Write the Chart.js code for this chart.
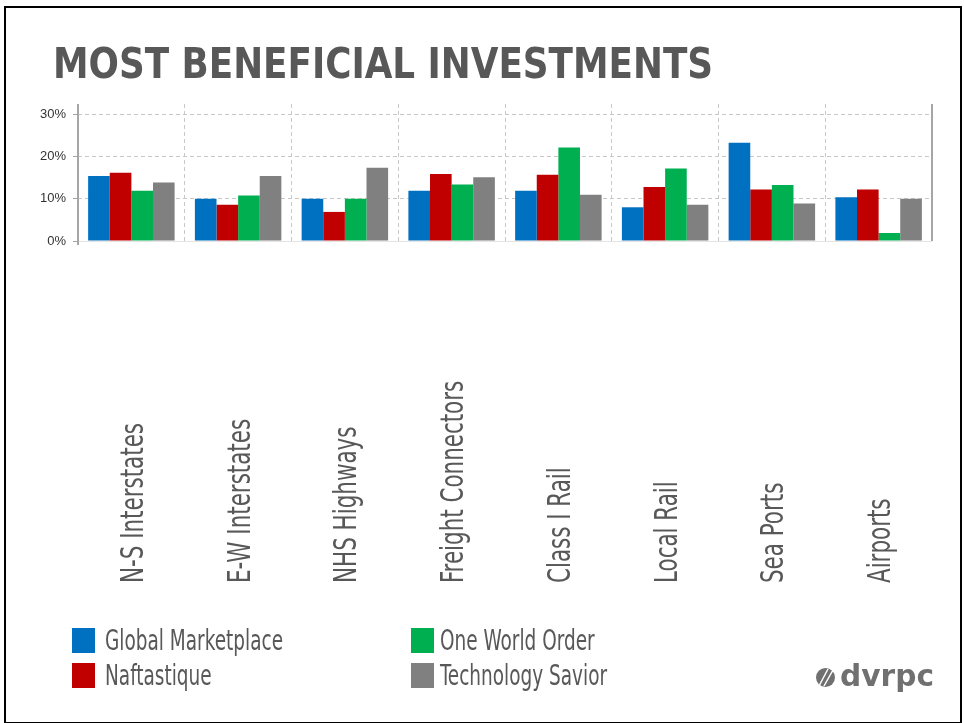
<!DOCTYPE html>
<html>
<head>
<meta charset="utf-8">
<script src="https://cdn.jsdelivr.net/npm/chart.js@4/dist/chart.umd.min.js"></script>
<style>
  html, body { margin: 0; padding: 0; background: #fff; }
  #wrap { width: 964px; height: 723px; position: relative; }
</style>
</head>
<body>
<div id="wrap"><canvas id="chart"></canvas></div>
<script>
const categories = ['N-S Interstates', 'E-W Interstates', 'NHS Highways', 'Freight Connectors', 'Class I Rail', 'Local Rail', 'Sea Ports', 'Airports'];
const seriesNames = ['Global Marketplace', 'Naftastique', 'One World Order', 'Technology Savior'];
const globalMarketplace = [15.4, 10.0, 10.0, 11.9, 11.9, 8.0, 23.3, 10.4];
const naftastique = [16.2, 8.6, 6.9, 15.9, 15.7, 12.8, 12.2, 12.2];
const oneWorldOrder = [11.9, 10.8, 10.0, 13.4, 22.2, 17.2, 13.3, 1.9];
const technologySavior = [13.9, 15.4, 17.4, 15.1, 11.0, 8.6, 8.9, 10.0];
const yTicks = [0, 10, 20, 30];
const titleText = 'MOST BENEFICIAL INVESTMENTS';

const colors = ['#0070C0', '#C00000', '#00B050', '#808080'];
const textGray = '#585858';
const narrow = "'Liberation Sans Narrow', 'DejaVu Sans Condensed', 'Liberation Sans', sans-serif";

// horizontal squeeze factor so text fits a given width
function fitText(ctx, text, width) {
  const w = ctx.measureText(text).width;
  return width / w;
}

const decor = {
  id: 'decor',
  beforeDraw(chart) {
    const ctx = chart.ctx;
    ctx.save();
    ctx.fillStyle = '#fff';
    ctx.fillRect(0, 0, chart.width, chart.height);
    ctx.restore();
  },
  afterDraw(chart) {
    const ctx = chart.ctx;
    const a = chart.chartArea;
    const xs = chart.scales.x;
    ctx.save();

    // zero line
    ctx.strokeStyle = '#e4e4e4';
    ctx.lineWidth = 1;
    ctx.beginPath();
    ctx.moveTo(a.left, Math.round(a.bottom) + 0.5);
    ctx.lineTo(a.right, Math.round(a.bottom) + 0.5);
    ctx.stroke();

    // left / right axis lines
    ctx.strokeStyle = '#a6a6a6';
    ctx.lineWidth = 2;
    ctx.beginPath();
    ctx.moveTo(a.left, a.top);
    ctx.lineTo(a.left, a.bottom + 4);
    ctx.moveTo(a.right, a.top);
    ctx.lineTo(a.right, a.bottom);
    ctx.stroke();

    // title
    ctx.fillStyle = textGray;
    ctx.font = 'bold 42px ' + narrow;
    ctx.textBaseline = 'alphabetic';
    ctx.textAlign = 'left';
    let k = fitText(ctx, titleText, 660);
    ctx.save();
    ctx.translate(53, 78);
    ctx.scale(k, 1);
    ctx.fillText(titleText, 0, 0);
    ctx.restore();

    // rotated category labels
    ctx.font = '32px ' + narrow;
    k = fitText(ctx, categories[0], 160);
    categories.forEach((c, i) => {
      const cx = xs.getPixelForValue(i);
      ctx.save();
      ctx.translate(cx + 11.5, 583);
      ctx.rotate(-Math.PI / 2);
      ctx.scale(k, 1);
      ctx.fillText(c, 0, 0);
      ctx.restore();
    });

    // legend
    ctx.font = '28px ' + narrow;
    k = fitText(ctx, seriesNames[0], 178);
    const boxX = [72, 411], textX = [105, 440], boxY = [628, 663], baseY = [650, 685];
    chart.data.datasets.forEach((ds, i) => {
      const col = Math.floor(i / 2), row = i % 2;
      ctx.fillStyle = ds.backgroundColor;
      ctx.fillRect(boxX[col], boxY[row], 23, 25);
      ctx.fillStyle = textGray;
      ctx.save();
      ctx.translate(textX[col], baseY[row]);
      ctx.scale(k, 1);
      ctx.fillText(ds.label, 0, 0);
      ctx.restore();
    });

    // logo
    ctx.fillStyle = '#707070';
    ctx.beginPath();
    ctx.arc(825.5, 677.5, 9.5, 0, Math.PI * 2);
    ctx.fill();
    ctx.strokeStyle = '#fff';
    ctx.lineWidth = 1.5;
    ctx.beginPath();
    ctx.moveTo(819, 686); ctx.lineTo(828, 669);
    ctx.moveTo(824, 686); ctx.lineTo(833, 670);
    ctx.stroke();
    ctx.fillStyle = '#707070';
    ctx.font = "bold 30px 'DejaVu Sans', sans-serif";
    k = fitText(ctx, 'dvrpc', 94);
    ctx.save();
    ctx.translate(840, 686);
    ctx.scale(k, 1);
    ctx.fillText('dvrpc', 0, 0);
    ctx.restore();

    // slide frame
    ctx.strokeStyle = '#000';
    ctx.lineWidth = 2;
    ctx.strokeRect(5, 7, 956, 716);
    ctx.restore();
  }
};

new Chart(document.getElementById('chart'), {
  type: 'bar',
  data: {
    labels: categories,
    datasets: [
      { label: seriesNames[0], data: globalMarketplace, backgroundColor: colors[0] },
      { label: seriesNames[1], data: naftastique, backgroundColor: colors[1] },
      { label: seriesNames[2], data: oneWorldOrder, backgroundColor: colors[2] },
      { label: seriesNames[3], data: technologySavior, backgroundColor: colors[3] }
    ]
  },
  options: {
    responsive: true,
    maintainAspectRatio: false,
    animation: false,
    categoryPercentage: 0.81,
    barPercentage: 1.0,
    layout: { padding: { left: 0, right: 32, top: 104, bottom: 482 } },
    plugins: { legend: { display: false }, tooltip: { enabled: false } },
    scales: {
      x: {
        ticks: { display: false },
        grid: { color: '#c8c8c8', drawTicks: false, offset: true },
        border: { display: false, dash: [4, 3] },
        afterFit: (s) => { s.height = 0; }
      },
      y: {
        min: 0,
        max: 32.5,
        afterBuildTicks: (s) => { s.ticks = yTicks.map((v) => ({ value: v })); },
        ticks: {
          padding: 7,
          color: '#333',
          font: { family: "'Liberation Sans', Arial, sans-serif", size: 13 },
          callback: (v) => v + '%'
        },
        grid: { color: (c) => (c.tick && c.tick.value === 0 ? 'rgba(0,0,0,0)' : '#c8c8c8'), tickLength: 5, tickColor: '#a6a6a6', tickBorderDash: [] },
        border: { display: false, dash: [4, 3] },
        afterFit: (s) => { s.width = 78; }
      }
    }
  },
  plugins: [decor]
});
</script>
</body>
</html>
